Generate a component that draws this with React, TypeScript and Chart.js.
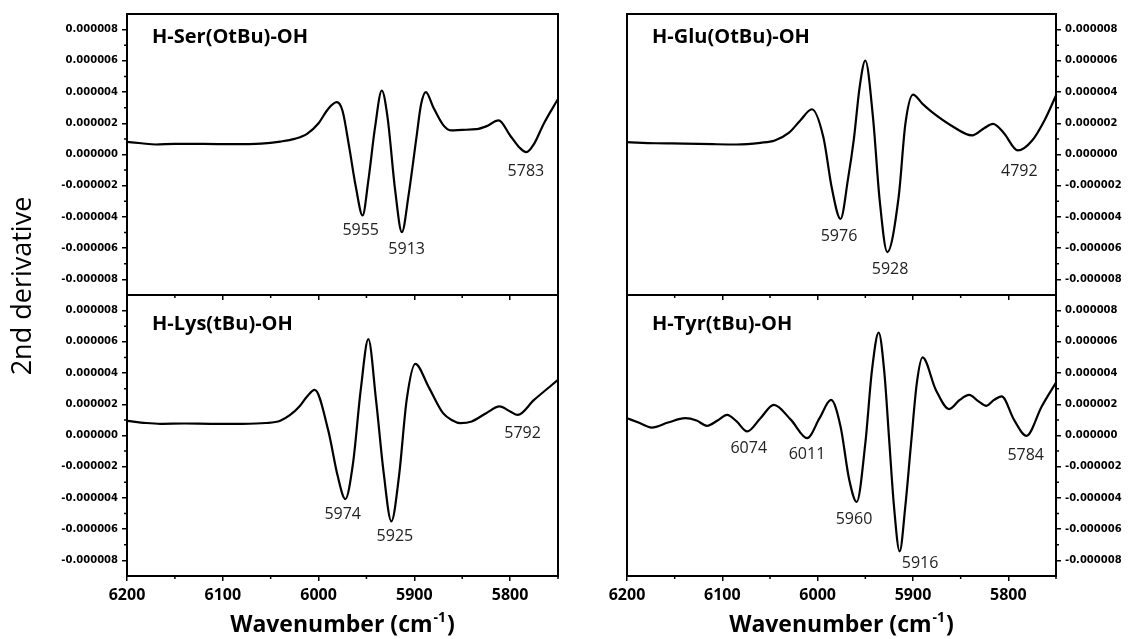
import React, { useEffect, useRef } from "react";
import { Chart, registerables } from "chart.js";

Chart.register(...registerables);

// ---------------- data ----------------
const SCALE = 1e-6; // values below are in units of 1e-6
const X_MIN = 5750;
const X_MAX = 6200;
const xMajorTicks = [6200, 6100, 6000, 5900, 5800];
const xMinorTicks = [6150, 6050, 5950, 5850, 5750];
const yMajorTicks = [-8, -6, -4, -2, 0, 2, 4, 6, 8];
const yMinorTicks = [-7, -5, -3, -1, 1, 3, 5, 7];
const Y_LIMIT = 9;

const serTitle = "H-Ser(OtBu)-OH";
const serWn = [6200, 6185, 6170, 6150, 6120, 6090, 6060, 6040, 6025, 6012, 6000, 5990, 5981, 5975, 5968, 5961, 5954, 5948, 5941, 5934, 5928, 5920, 5913, 5906, 5898, 5893, 5888, 5880, 5870, 5862, 5850, 5835, 5825, 5812, 5800, 5790, 5783, 5775, 5765, 5750];
const serVal = [0.81, 0.72, 0.64, 0.68, 0.68, 0.66, 0.7, 0.83, 1.0, 1.32, 2.0, 2.92, 3.35, 2.8, 0.47, -2.1, -3.9, -1.66, 1.75, 4.1, 2.4, -2.3, -4.97, -2.6, 1.0, 3.2, 4.0, 3.0, 1.9, 1.55, 1.58, 1.62, 1.8, 2.18, 1.22, 0.43, 0.15, 0.68, 1.96, 3.56];
const serPeakText = ["5955", "5913", "5783"];
const serPeakWn = [5956, 5908, 5783.5];
const serPeakVal = [-4.86, -6.08, -1.09];

const gluTitle = "H-Glu(OtBu)-OH";
const gluWn = [6200, 6170, 6140, 6110, 6085, 6060, 6045, 6030, 6018, 6006, 5994, 5985, 5976, 5968, 5962, 5956, 5950, 5942, 5935, 5927, 5915, 5908, 5900, 5890, 5880, 5860, 5838, 5825, 5816, 5805, 5790, 5775, 5762, 5750];
const gluVal = [0.79, 0.72, 0.7, 0.66, 0.64, 0.75, 0.9, 1.4, 2.2, 2.9, 1.1, -2.2, -4.12, -1.5, 1.0, 4.3, 6.02, 2.4, -2.9, -6.25, -2.7, 1.96, 3.84, 3.24, 2.71, 1.86, 1.22, 1.7, 1.96, 1.4, 0.26, 0.9, 2.2, 3.78];
const gluPeakText = ["5976", "5928", "4792"];
const gluPeakWn = [5977.6, 5924, 5788.5];
const gluPeakVal = [-5.25, -7.38, -1.09];

const lysTitle = "H-Lys(tBu)-OH";
const lysWn = [6200, 6180, 6165, 6140, 6110, 6080, 6055, 6040, 6030, 6020, 6012, 6004, 5990, 5980, 5972, 5964, 5956, 5948, 5940, 5932, 5924, 5916, 5908, 5899, 5885, 5870, 5860, 5852, 5840, 5825, 5811, 5800, 5792, 5775, 5750];
const lysVal = [0.94, 0.8, 0.75, 0.77, 0.75, 0.75, 0.8, 0.95, 1.3, 1.86, 2.5, 2.92, 0.36, -2.6, -4.07, -1.77, 2.9, 6.17, 2.28, -2.4, -5.5, -2.6, 2.28, 4.59, 3.1, 1.43, 0.96, 0.79, 0.9, 1.43, 1.86, 1.54, 1.32, 2.28, 3.56];
const lysPeakText = ["5974", "5925", "5792"];
const lysPeakWn = [5974.8, 5920.3, 5787];
const lysPeakVal = [-5.03, -6.46, 0.15];

const tyrTitle = "H-Tyr(tBu)-OH";
const tyrWn = [6200, 6188, 6174, 6157, 6139, 6127, 6116, 6105, 6095, 6085, 6074, 6060, 6046, 6028, 6011, 5998, 5986, 5976, 5967, 5959, 5950, 5943, 5936, 5930, 5925, 5920, 5914, 5908, 5902, 5896, 5890, 5876, 5862, 5851, 5841, 5832, 5823, 5815, 5807, 5794, 5781, 5765, 5750];
const tyrVal = [1.11, 0.83, 0.51, 0.83, 1.11, 0.96, 0.62, 0.96, 1.32, 0.9, 0.26, 1.11, 1.96, 1.0, -0.17, 1.11, 2.28, 0.58, -2.8, -4.25, -0.49, 4.2, 6.59, 4.0, -0.27, -4.5, -7.42, -4.5, -0.49, 3.35, 5.0, 2.92, 1.69, 2.28, 2.6, 2.22, 1.9, 2.28, 2.5, 1.0, -0.02, 1.86, 3.39];
const tyrPeakText = ["6074", "6011", "5960", "5916", "5784"];
const tyrPeakWn = [6072.3, 6011.2, 5961.9, 5892.6, 5781.8];
const tyrPeakVal = [-0.81, -1.19, -5.35, -8.17, -1.28];

const xAxisTitle = "Wavenumber (cm";
const xAxisTitleSup = "-1";
const yAxisTitle = "2nd derivative";

// ---------------- layout ----------------
const W = 1131;
const H = 639;
const COLS = [
  { left: 127, right: 558 },
  { left: 627, right: 1056 },
];
const ROWS = [
  { top: 14, bottom: 295 },
  { top: 295, bottom: 576 },
];
const YW = 74;
const XH_TOP = 6;
const XH_BOTTOM = 32;

type PanelDef = {
  title: string;
  wn: number[];
  val: number[];
  peakText: string[];
  peakWn: number[];
  peakVal: number[];
  col: number;
  row: number;
};

const panels: PanelDef[] = [
  { title: serTitle, wn: serWn, val: serVal, peakText: serPeakText, peakWn: serPeakWn, peakVal: serPeakVal, col: 0, row: 0 },
  { title: gluTitle, wn: gluWn, val: gluVal, peakText: gluPeakText, peakWn: gluPeakWn, peakVal: gluPeakVal, col: 1, row: 0 },
  { title: lysTitle, wn: lysWn, val: lysVal, peakText: lysPeakText, peakWn: lysPeakWn, peakVal: lysPeakVal, col: 0, row: 1 },
  { title: tyrTitle, wn: tyrWn, val: tyrVal, peakText: tyrPeakText, peakWn: tyrPeakWn, peakVal: tyrPeakVal, col: 1, row: 1 },
];

function makeConfig(def: PanelDef): any {
  const col = COLS[def.col];
  const row = ROWS[def.row];
  const side = def.col === 0 ? "left" : "right";
  const xh = def.row === 1 ? XH_BOTTOM : XH_TOP;
  const padding = {
    left: side === "left" ? col.left - YW : col.left,
    right: side === "right" ? W - col.right - YW : W - col.right,
    top: row.top,
    bottom: H - row.bottom - xh,
  };

  const decor = {
    id: "decor" + def.col + def.row,
    afterDraw(chart: any) {
      const { ctx, chartArea: a } = chart;
      const xs = chart.scales.x;
      const ys = chart.scales.y;
      ctx.save();
      // frame
      ctx.strokeStyle = "#000";
      ctx.lineWidth = 2;
      ctx.strokeRect(a.left, a.top, a.right - a.left, a.bottom - a.top);
      // minor ticks
      ctx.lineWidth = 1.5;
      ctx.beginPath();
      for (const t of xMinorTicks) {
        const px = xs.getPixelForValue(t);
        ctx.moveTo(px, a.bottom);
        ctx.lineTo(px, a.bottom + 3);
      }
      for (const t of yMinorTicks) {
        const py = ys.getPixelForValue(t * SCALE);
        if (side === "left") {
          ctx.moveTo(a.left - 3, py);
          ctx.lineTo(a.left, py);
        } else {
          ctx.moveTo(a.right, py);
          ctx.lineTo(a.right + 3, py);
        }
      }
      ctx.stroke();
      // panel title
      ctx.fillStyle = "#000";
      ctx.font = 'bold 20px "Open Sans"';
      ctx.textAlign = "left";
      ctx.textBaseline = "middle";
      ctx.fillText(def.title, a.left + 25, a.top + (def.row === 0 ? 23 : 29));
      // peak labels
      ctx.fillStyle = "#222";
      ctx.font = '16px "Open Sans"';
      ctx.textAlign = "center";
      for (let i = 0; i < def.peakText.length; i++) {
        ctx.fillText(
          def.peakText[i],
          xs.getPixelForValue(def.peakWn[i]),
          ys.getPixelForValue(def.peakVal[i] * SCALE)
        );
      }
      // axis titles
      ctx.fillStyle = "#000";
      if (def.row === 1) {
        const mainFont = 'bold 23px "Open Sans"';
        const supFont = 'bold 14px "Open Sans"';
        ctx.font = mainFont;
        const w1 = ctx.measureText(xAxisTitle).width;
        const w3 = ctx.measureText(")").width;
        ctx.font = supFont;
        const w2 = ctx.measureText(xAxisTitleSup).width;
        const total = w1 + w2 + w3 + 2;
        const cx = (a.left + a.right) / 2;
        const x0 = cx - total / 2;
        const base = 632;
        ctx.textAlign = "left";
        ctx.textBaseline = "alphabetic";
        ctx.font = mainFont;
        ctx.fillText(xAxisTitle, x0, base);
        ctx.font = supFont;
        ctx.fillText(xAxisTitleSup, x0 + w1 + 1, base - 10);
        ctx.font = mainFont;
        ctx.fillText(")", x0 + w1 + w2 + 2, base);
      }
      if (def.row === 1 && def.col === 0) {
        ctx.save();
        ctx.translate(23, 286);
        ctx.rotate(-Math.PI / 2);
        ctx.font = '27px "Open Sans"';
        ctx.textAlign = "center";
        ctx.textBaseline = "middle";
        ctx.fillText(yAxisTitle, 0, 0);
        ctx.restore();
      }
      ctx.restore();
    },
  };

  return {
    type: "line",
    data: {
      datasets: [
        {
          data: def.wn.map((w, i) => ({ x: w, y: def.val[i] * SCALE })),
          borderColor: "#000",
          borderWidth: 2.2,
          pointRadius: 0,
          fill: false,
          cubicInterpolationMode: "monotone",
        },
      ],
    },
    options: {
      responsive: false,
      maintainAspectRatio: false,
      animation: false,
      layout: { padding },
      plugins: { legend: { display: false }, tooltip: { enabled: false }, title: { display: false } },
      scales: {
        x: {
          type: "linear",
          position: "bottom",
          reverse: true,
          min: X_MIN,
          max: X_MAX,
          afterBuildTicks: (s: any) => {
            s.ticks = xMajorTicks.map((v) => ({ value: v }));
          },
          afterFit: (s: any) => {
            s.height = xh;
          },
          ticks: {
            display: def.row === 1,
            color: "#000",
            font: { family: "Open Sans", size: 16, weight: "bold" },
            padding: 5,
            maxRotation: 0,
            autoSkip: false,
            callback: (v: any) => String(v),
          },
          grid: { drawOnChartArea: false, drawTicks: true, tickLength: 5, color: "#000", lineWidth: 1.5 },
          border: { display: true, color: "#000", width: 2 },
        },
        y: {
          type: "linear",
          position: side,
          min: -Y_LIMIT * SCALE,
          max: Y_LIMIT * SCALE,
          afterBuildTicks: (s: any) => {
            s.ticks = yMajorTicks.map((v) => ({ value: v * SCALE }));
          },
          afterFit: (s: any) => {
            s.width = YW;
          },
          ticks: {
            color: "#000",
            font: { family: "DejaVu Sans", size: 10, weight: "bold" },
            padding: 4,
            autoSkip: false,
            callback: (v: any) => {
              const n = Math.round(Number(v) / SCALE);
              return (n * SCALE).toFixed(6);
            },
          },
          grid: { drawOnChartArea: false, drawTicks: true, tickLength: 5, color: "#000", lineWidth: 1.5 },
          border: { display: true, color: "#000", width: 2 },
        },
      },
    },
    plugins: [decor],
  };
}

function Panel({ def }: { def: PanelDef }) {
  const ref = useRef<HTMLCanvasElement | null>(null);
  useEffect(() => {
    if (!ref.current) return;
    const chart = new Chart(ref.current, makeConfig(def));
    return () => chart.destroy();
  }, [def]);
  return (
    <canvas
      ref={ref}
      width={W}
      height={H}
      style={{ position: "absolute", left: 0, top: 0, width: W, height: H }}
    />
  );
}

export default function App() {
  useEffect(() => {
    document.body.style.margin = "0";
    document.body.style.background = "#fff";
  }, []);
  return (
    <div style={{ position: "relative", width: W, height: H, background: "#fff", overflow: "hidden" }}>
      {panels.map((p, i) => (
        <Panel key={i} def={p} />
      ))}
    </div>
  );
}
